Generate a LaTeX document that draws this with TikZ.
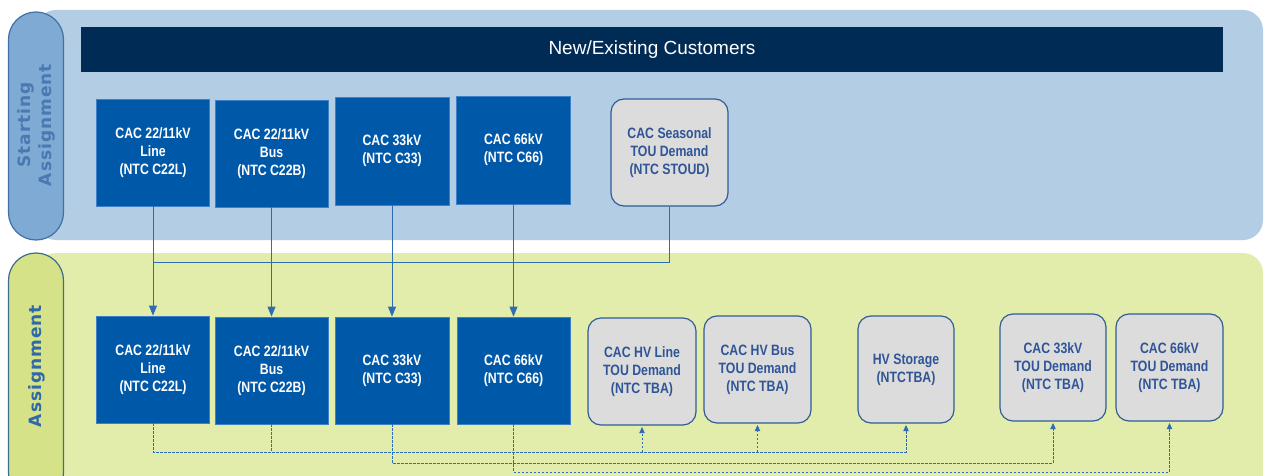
\documentclass[tikz,border=0pt]{standalone}
\usepackage{fontspec}
\setmainfont{Liberation Sans}
\newfontfamily\narrowfont[FakeStretch=0.82]{Liberation Sans}
\newfontfamily\pillfont[LetterSpace=6]{DejaVu Sans Bold}
\usetikzlibrary{arrows.meta}
\definecolor{bandblue}{HTML}{B2CDE4}
\definecolor{bandgreen}{HTML}{E3EDAB}
\definecolor{pillblue}{HTML}{7FAAD4}
\definecolor{pillblueedge}{HTML}{3F71A6}
\definecolor{pillbluetext}{HTML}{4A78B2}
\definecolor{pillgreen}{HTML}{D5E288}
\definecolor{pillgreenedge}{HTML}{3D6C8E}
\definecolor{pillgreentext}{HTML}{2F69A8}
\definecolor{navy}{HTML}{002B54}
\definecolor{boxblue}{HTML}{0058A8}
\definecolor{boxedge}{HTML}{3F7FC5}
\definecolor{boxgrey}{HTML}{DCDCDC}
\definecolor{greyedge}{HTML}{2F5E98}
\definecolor{greytext}{HTML}{2F5597}
\definecolor{linkblue}{HTML}{2E6DB4}
\newcommand\boxfont{\narrowfont\bfseries\fontsize{15}{18}\selectfont}
\newcommand\pilltext{\pillfont\fontsize{17}{21}\selectfont}
\begin{document}
\begin{tikzpicture}[x=1pt,y=-1pt,
    cac/.style={rectangle,draw=boxedge,line width=0.8pt,fill=boxblue,text=white,
      font=\boxfont,align=center,inner sep=0pt,minimum width=113pt,minimum height=107pt},
    tou/.style={rectangle,rounded corners=13pt,draw=greyedge,line width=1.2pt,fill=boxgrey,
      text=greytext,font=\boxfont,align=center,inner sep=0pt,minimum width=106pt,minimum height=107pt},
    pill/.style={rectangle,rounded corners=27.5pt,line width=1.2pt,minimum height=55pt,inner sep=0pt},
    feed/.style={draw=linkblue,line width=0.9pt},
    hint/.style={draw=linkblue,line width=0.9pt,dash pattern=on 2.5pt off 1.5pt},
    tip/.style={-{Triangle[length=10pt,width=8pt]}},
    smalltip/.style={-{Triangle[length=6pt,width=5.5pt]},shorten >=1.5pt}]
  \clip (0,0) rectangle (1264,476);
  \fill[white] (0,0) rectangle (1264,476);
  % bands
  \fill[bandblue,rounded corners=20pt] (36,10) rectangle (1263,240);
  \fill[bandgreen,rounded corners=20pt] (36,253) rectangle (1263,500);
  \node[pill,rotate=90,minimum width=228pt,draw=pillblueedge,fill=pillblue] (startpill) at (36,126) {};
  \node[pill,rotate=90,minimum width=247pt,draw=pillgreenedge,fill=pillgreen] (mainpill) at (36,376.5) {};
  \node[rotate=90,align=center,font=\pilltext,text=pillbluetext] (startlabel) at (36,125) {Starting\\Assignment};
  \node[rotate=90,font=\pilltext,text=pillgreentext] (mainlabel) at (37,366) {Assignment};
  \node[fill=navy,text=white,minimum width=1142pt,minimum height=45pt,inner sep=0pt,
    font=\fontsize{19}{22}\selectfont] (title) at (652,49.5) {New/Existing Customers};
  % starting row
  \node[cac] (t1) at (153,152.5) {CAC 22/11kV\\Line\\(NTC C22L)};
  \node[cac] (t2) at (271.5,153.5) {CAC 22/11kV\\Bus\\(NTC C22B)};
  \node[cac,minimum width=114pt,minimum height=108pt] (t3) at (392,151) {CAC 33kV\\(NTC C33)};
  \node[cac,minimum width=114pt,minimum height=108pt] (t4) at (513.5,150) {CAC 66kV\\(NTC C66)};
  \node[tou,minimum width=117pt] (ts) at (669.5,152.5) {CAC Seasonal\\TOU Demand\\(NTC STOUD)};
  % assignment row
  \node[cac] (b1) at (153,369.5) {CAC 22/11kV\\Line\\(NTC C22L)};
  \node[cac] (b2) at (271.5,370.5) {CAC 22/11kV\\Bus\\(NTC C22B)};
  \node[cac,minimum width=114pt] (b3) at (392,370.5) {CAC 33kV\\(NTC C33)};
  \node[cac] (b4) at (513.5,370.5) {CAC 66kV\\(NTC C66)};
  \node[tou,minimum width=108pt] (b5) at (642,371.5) {CAC HV Line\\TOU Demand\\(NTC TBA)};
  \node[tou,minimum width=107pt] (b6) at (757.5,369.5) {CAC HV Bus\\TOU Demand\\(NTC TBA)};
  \node[tou,minimum width=96pt] (b7) at (906,369.5) {HV Storage\\(NTCTBA)};
  \node[tou] (b8) at (1053,367.5) {CAC 33kV\\TOU Demand\\(NTC TBA)};
  \node[tou,minimum width=107pt] (b9) at (1169.5,367.5) {CAC 66kV\\TOU Demand\\(NTC TBA)};
  \coordinate (seam) at (153,262);
  \coordinate (lv) at (153,452);
  \coordinate (mv) at (392,463);
  \coordinate (hv) at (513.5,472);
  \begin{scope}[feed]
    \draw (ts.south) |- (seam);
    \draw[tip] (t1.south) to (b1.north);
    \draw[tip] (t2.south) to (b2.north);
    \draw[tip] (t3.south) to (b3.north);
    \draw[tip] (t4.south) to (b4.north);
  \end{scope}
  \begin{scope}[hint]
    \draw[smalltip] (b1.south) -- (lv) -| (b7.south);
    \draw (b2.south) -- (b2.south |- lv);
    \draw[smalltip] (b5.south |- lv) -- (b5.south);
    \draw[smalltip] (b6.south |- lv) -- (b6.south);
    \draw[smalltip] (b3.south) -- (mv) -| (b8.south);
    \draw[smalltip] (b4.south) -- (hv) -| (b9.south);
  \end{scope}
\end{tikzpicture}
\end{document}
